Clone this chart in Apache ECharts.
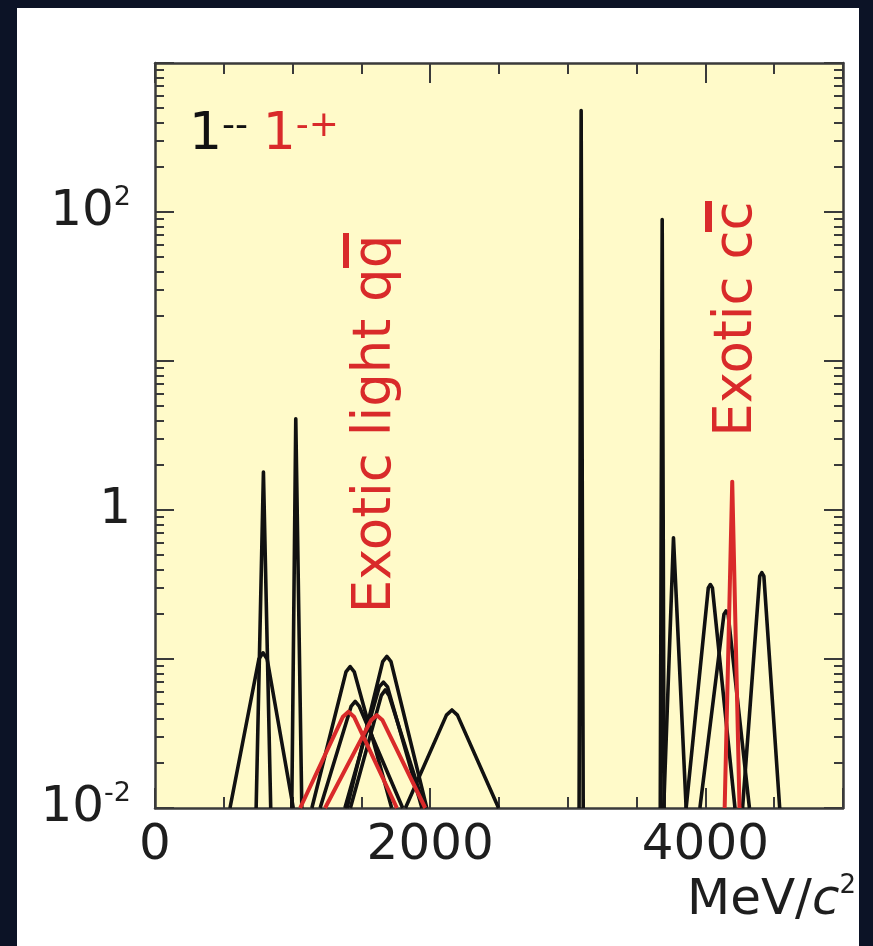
<!DOCTYPE html>
<html>
<head>
<meta charset="utf-8">
<script src="https://cdn.jsdelivr.net/npm/echarts@6/dist/echarts.min.js"></script>
<style>
  html, body { margin: 0; padding: 0; background: #0c1326; }
  #wrap { position: relative; width: 873px; height: 946px; background: #0c1326; overflow: hidden; }
  #panel { position: absolute; left: 17px; top: 8px; width: 842px; height: 938px; background: #ffffff; }
  #chart { position: absolute; left: 0; top: 0; width: 873px; height: 946px; }
</style>
</head>
<body>
<div id="wrap"><div id="panel"></div><div id="chart"></div></div>
<script>
// ---- axis settings / tick labels ----
const xMin = 0, xMax = 5000;
const xLabelValues = [0, 2000, 4000];
const yMin = 0.01, yMax = 1000;
const yMajorTicks = [0.01, 0.1, 1, 10, 100, 1000];
const yMinorTicks = [0.02, 0.03, 0.04, 0.05, 0.06, 0.07, 0.08, 0.09,
                     0.2, 0.3, 0.4, 0.5, 0.6, 0.7, 0.8, 0.9,
                     2, 3, 4, 5, 6, 7, 8, 9,
                     20, 30, 40, 50, 60, 70, 80, 90,
                     200, 300, 400, 500, 600, 700, 800, 900];
const yLabelText = { '-2': ['10', '-2'], '0': ['1', ''], '2': ['10', '2'] };

// ---- 1-- states (black), [mass MeV/c^2, value] ----
const rho770   = [[545, 0.01], [755, 0.1], [785, 0.11], [815, 0.1], [1005, 0.01]];
const omega782 = [[735, 0.01], [788, 1.8], [841, 0.01]];
const phi1020  = [[994, 0.01], [1023, 4.1], [1067, 0.01]];
const peakA    = [[1140, 0.01], [1388, 0.082], [1418, 0.089], [1448, 0.082], [1720, 0.01]];
const peakB    = [[1200, 0.01], [1425, 0.048], [1455, 0.052], [1485, 0.048], [1800, 0.01]];
const peakC    = [[1395, 0.01], [1655, 0.096], [1685, 0.104], [1715, 0.096], [1975, 0.01]];
const peakD    = [[1380, 0.01], [1630, 0.065], [1660, 0.07], [1690, 0.065], [1940, 0.01]];
const peakE    = [[1420, 0.01], [1645, 0.057], [1673, 0.062], [1701, 0.057], [1960, 0.01]];
const phi2170  = [[1820, 0.01], [2118, 0.042], [2158, 0.0455], [2198, 0.042], [2497, 0.01]];
const jpsi     = [[3082, 0.01], [3097, 480], [3112, 0.01]];
const psi2S    = [[3672, 0.01], [3686, 89], [3700, 0.01]];
const psi3770  = [[3697, 0.01], [3768, 0.65], [3860, 0.01]];
const psi4040  = [[3860, 0.01], [4021, 0.3], [4036, 0.316], [4051, 0.3], [4215, 0.01]];
const psi4160  = [[3960, 0.01], [4135, 0.2], [4150, 0.21], [4165, 0.2], [4320, 0.01]];
const psi4415  = [[4270, 0.01], [4395, 0.36], [4410, 0.38], [4425, 0.36], [4540, 0.01]];

// ---- 1-+ exotic states (red) ----
const pi1_1400 = [[1055, 0.01], [1366, 0.041], [1406, 0.0443], [1446, 0.041], [1758, 0.01]];
const pi1_1600 = [[1236, 0.01], [1572, 0.039], [1612, 0.042], [1652, 0.039], [1964, 0.01]];
const ccExotic = [[4140, 0.01], [4195, 1.55], [4248, 0.01]];

const blackSets = [rho770, omega782, phi1020, peakA, peakB, peakC, peakD, peakE, phi2170,
                   jpsi, psi2S, psi3770, psi4040, psi4160, psi4415];
const redSets = [pi1_1400, pi1_1600, ccExotic];

const BLACK = '#111111', RED = '#d92a2a', AXIS = '#3a3a3a', TXT = '#1e1e1e';
const FONT = 'DejaVu Sans';

const series = [];
blackSets.forEach(d => series.push({
  type: 'line', data: d, showSymbol: false, symbol: 'none', clip: true,
  lineStyle: { color: BLACK, width: 3.6, join: 'round' }, z: 3
}));
redSets.forEach(d => series.push({
  type: 'line', data: d, showSymbol: false, symbol: 'none', clip: true,
  lineStyle: { color: RED, width: 4, join: 'round' }, z: 4
}));

function xAxisDef(pos, interval, tickLen, withLabels, withLine) {
  return {
    type: 'value', position: pos, min: xMin, max: xMax, interval: interval,
    axisLine: { show: withLine, onZero: false, lineStyle: { color: AXIS, width: 2.5 } },
    axisTick: { show: true, inside: true, length: tickLen, lineStyle: { color: AXIS, width: 2 } },
    splitLine: { show: false },
    axisLabel: withLabels ? {
      show: true, margin: 13, color: TXT, fontSize: 50, fontFamily: FONT, lineHeight: 50,
      showMinLabel: true, showMaxLabel: false,
      formatter: v => (xLabelValues.indexOf(v) >= 0 ? String(v) : '')
    } : { show: false }
  };
}
function yAxisDef(pos, withLabels, tickValues, tickLen, withLine) {
  return {
    type: 'log', logBase: 10, position: pos, min: yMin, max: yMax,
    axisLine: { show: withLine, onZero: false, lineStyle: { color: AXIS, width: 2.5 } },
    axisTick: { show: true, inside: true, length: tickLen, customValues: tickValues,
                lineStyle: { color: AXIS, width: 2 } },
    splitLine: { show: false }, minorSplitLine: { show: false },
    axisLabel: withLabels ? {
      show: true, margin: 24, color: TXT, fontFamily: FONT,
      customValues: yMajorTicks,
      showMinLabel: true, showMaxLabel: true,
      formatter: v => {
        const e = String(Math.round(Math.log10(v)));
        const t = yLabelText[e];
        if (!t) return '';
        return t[1] ? '{b|' + t[0] + '}{s|' + t[1] + '}' : '{b|' + t[0] + '}';
      },
      rich: {
        b: { fontSize: 50, lineHeight: 56, fontFamily: FONT, color: TXT },
        s: { fontSize: 27, lineHeight: 27, verticalAlign: 'top', fontFamily: FONT, color: TXT }
      }
    } : { show: false }
  };
}

const chart = echarts.init(document.getElementById('chart'), null, { renderer: 'canvas' });
chart.setOption({
  backgroundColor: 'transparent',
  animation: false,
  grid: { left: 155, right: 30, top: 63, bottom: 138, containLabel: false,
          show: true, backgroundColor: '#fffac9', borderWidth: 0 },
  xAxis: [
    xAxisDef('bottom', 500, 11, true, true),
    xAxisDef('bottom', 2000, 20, false, false),
    xAxisDef('top', 500, 11, false, true),
    xAxisDef('top', 2000, 20, false, false)
  ],
  yAxis: [
    yAxisDef('left', true, yMajorTicks, 19, true),
    yAxisDef('left', false, yMinorTicks, 9, false),
    yAxisDef('right', false, yMajorTicks, 19, true),
    yAxisDef('right', false, yMinorTicks, 9, false)
  ],
  series: series,
  graphic: [
    { type: 'text', left: 189, top: 105, z: 10,
      style: { text: '{k|1}{ks|--}{sp| }{r|1}{rs|-+}', fontFamily: FONT,
        rich: {
          k: { fontSize: 52, lineHeight: 60, fill: BLACK, color: BLACK, fontFamily: FONT },
          ks: { fontSize: 36, lineHeight: 36, verticalAlign: 'top', padding: [4, 0, 0, 0], fill: BLACK, color: BLACK, fontFamily: FONT },
          sp: { fontSize: 46, lineHeight: 60, fontFamily: FONT },
          r: { fontSize: 52, lineHeight: 60, fill: RED, color: RED, fontFamily: FONT },
          rs: { fontSize: 36, lineHeight: 36, verticalAlign: 'top', padding: [4, 0, 0, 0], fill: RED, color: RED, fontFamily: FONT }
        } } },
    { type: 'text', x: 376, y: 424, rotation: Math.PI / 2, z: 10,
      style: { text: 'Exotic light qq', fill: RED, fontSize: 53, fontFamily: FONT,
               align: 'center', verticalAlign: 'middle', textAlign: 'center', textVerticalAlign: 'middle' } },
    { type: 'rect', shape: { x: 343, y: 233, width: 6, height: 35 }, style: { fill: RED }, z: 10 },
    { type: 'text', x: 737, y: 319, rotation: Math.PI / 2, z: 10,
      style: { text: 'Exotic cc', fill: RED, fontSize: 53, fontFamily: FONT,
               align: 'center', verticalAlign: 'middle', textAlign: 'center', textVerticalAlign: 'middle' } },
    { type: 'rect', shape: { x: 705, y: 201, width: 7, height: 31 }, style: { fill: RED }, z: 10 },
    { type: 'text', x: 687, y: 901, z: 10,
      style: { text: '{n|MeV/}{i|c}{s|2}', fontFamily: FONT, align: 'left', verticalAlign: 'middle',
        textAlign: 'left', textVerticalAlign: 'middle',
        rich: {
          n: { fontSize: 50, lineHeight: 56, fill: TXT, color: TXT, fontFamily: FONT },
          i: { fontSize: 50, lineHeight: 56, fontStyle: 'italic', fill: TXT, color: TXT, fontFamily: FONT },
          s: { fontSize: 26, lineHeight: 26, verticalAlign: 'top', fill: TXT, color: TXT, fontFamily: FONT }
        } } }
  ]
});
</script>
</body>
</html>
